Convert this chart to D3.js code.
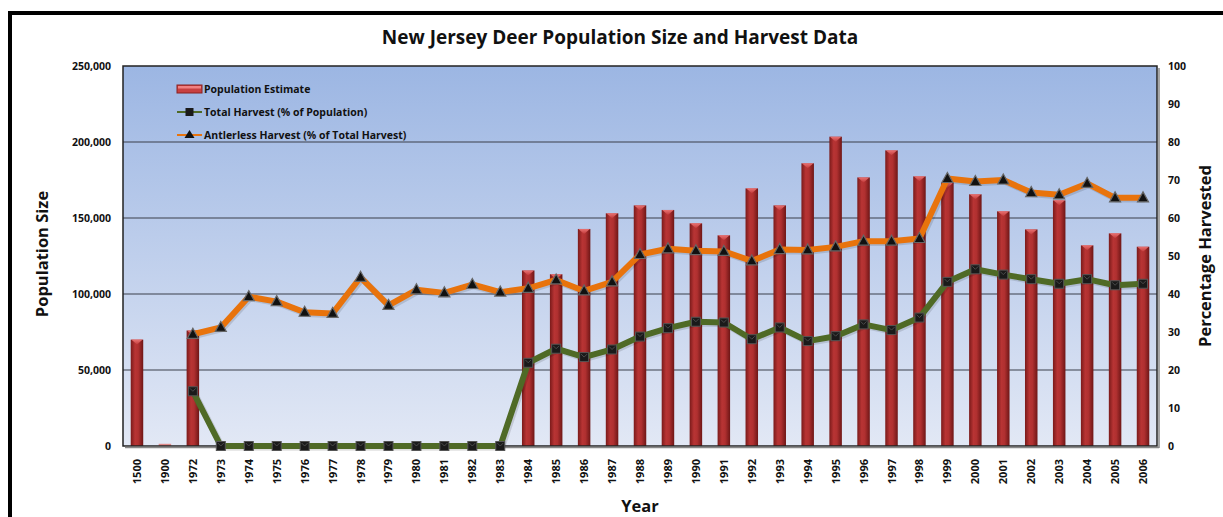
<!DOCTYPE html>
<html><head><meta charset="utf-8">
<script src="https://cdn.jsdelivr.net/npm/d3@7"></script>
<style>body{margin:0;background:#fff}svg{display:block;font-family:"Open Sans",Lato,sans-serif}</style>
</head><body>
<script>
const years = ["1500","1900","1972","1973","1974","1975","1976","1977","1978","1979","1980","1981","1982","1983","1984","1985","1986","1987","1988","1989","1990","1991","1992","1993","1994","1995","1996","1997","1998","1999","2000","2001","2002","2003","2004","2005","2006"];
const population = [70000,800,76000,null,null,null,null,null,null,null,null,null,null,null,115500,113000,142800,153100,158300,155300,146500,138600,169500,158300,186000,203500,176700,194500,177400,173200,165600,154400,142500,161600,132000,139900,131100];
const totalHarvest = [null,null,14.4,0,0,0,0,0,0,0,0,0,0,0,21.9,25.6,23.4,25.4,28.8,31.0,32.7,32.5,28.1,31.2,27.6,28.9,32.0,30.5,33.8,43.2,46.5,45.1,43.9,42.7,43.9,42.3,42.7];
const antlerless = [null,null,29.4,31.2,39.3,38.0,35.2,34.9,44.4,37.0,41.1,40.3,42.5,40.5,41.5,43.7,40.8,43.2,50.4,51.9,51.4,51.2,48.7,51.7,51.6,52.4,53.9,53.9,54.6,70.4,69.6,70.0,66.7,66.1,69.1,65.3,65.3];
const leftTicks = [0,50000,100000,150000,200000,250000];
const rightTicks = [0,10,20,30,40,50,60,70,80,90,100];
const legendLabels = ["Population Estimate","Total Harvest (% of Population)","Antlerless Harvest (% of Total Harvest)"];

const W=1223,H=517;
const m={l:123,r:1157,t:66,b:446};
const svg=d3.select("body").append("svg").attr("width",W).attr("height",H);
const defs=svg.append("defs");
const bg=defs.append("linearGradient").attr("id","bg").attr("x1",0).attr("y1",0).attr("x2",0).attr("y2",1);
bg.append("stop").attr("offset","0%").attr("stop-color","#9cb6e3");
bg.append("stop").attr("offset","100%").attr("stop-color","#e2e8f5");
const bar=defs.append("linearGradient").attr("id","bar").attr("x1",0).attr("y1",0).attr("x2",1).attr("y2",0);
bar.append("stop").attr("offset","0%").attr("stop-color","#7a1a1a");
bar.append("stop").attr("offset","35%").attr("stop-color","#b83434");
bar.append("stop").attr("offset","60%").attr("stop-color","#b03030");
bar.append("stop").attr("offset","100%").attr("stop-color","#6e1616");
const cap=defs.append("linearGradient").attr("id","cap").attr("x1",0).attr("y1",0).attr("x2",0).attr("y2",1);
cap.append("stop").attr("offset","0%").attr("stop-color","#f07a7a");
cap.append("stop").attr("offset","100%").attr("stop-color","#c23a3a");

// outer frame
svg.append("rect").attr("x",10).attr("y",13).attr("width",1260).attr("height",560)
  .attr("fill","none").attr("stroke","#000").attr("stroke-width",4);

const x=d3.scaleBand().domain(years).range([m.l,m.r]).paddingInner(0).paddingOuter(0);
const yL=d3.scaleLinear().domain([0,250000]).range([m.b,m.t]);
const yR=d3.scaleLinear().domain([0,100]).range([m.b,m.t]);

svg.append("rect").attr("x",m.l).attr("y",m.t).attr("width",m.r-m.l).attr("height",m.b-m.t).attr("fill","url(#bg)");
// gridlines
svg.append("g").selectAll("line").data(leftTicks.filter(d=>d>0&&d<250000)).join("line")
  .attr("x1",m.l).attr("x2",m.r).attr("y1",d=>yL(d)).attr("y2",d=>yL(d))
  .attr("stroke","#3a3f4a").attr("stroke-width",1.2);

// bars
const bw=12.5;
const bars=svg.append("g");
years.forEach((yr,i)=>{
  const v=population[i]; if(v==null) return;
  const cx=x(yr)+x.bandwidth()/2;
  const top=yL(v);
  if(v<5000){
    bars.append("rect").attr("x",cx-bw/2).attr("y",top-1).attr("width",bw).attr("height",m.b-top+1).attr("fill","#e08a8a");
    return;
  }
  bars.append("rect").attr("x",cx-bw/2).attr("y",top).attr("width",bw).attr("height",m.b-top).attr("fill","url(#bar)");
  bars.append("path").attr("d",`M${cx-bw/2+0.5},${top} L${cx+bw/2-0.5},${top} L${cx},${top+5} Z`).attr("fill","url(#cap)").attr("opacity",0.9);
});

// plot border
svg.append("rect").attr("x",m.l).attr("y",m.t).attr("width",m.r-m.l).attr("height",m.b-m.t)
  .attr("fill","none").attr("stroke","#222").attr("stroke-width",1.5);
svg.append("line").attr("x1",m.r+2).attr("x2",m.r+2).attr("y1",m.t+2).attr("y2",m.b+2).attr("stroke","#888").attr("stroke-width",1.5);
svg.append("line").attr("x1",m.l+2).attr("x2",m.r+2).attr("y1",m.b+1.5).attr("y2",m.b+1.5).attr("stroke","#888").attr("stroke-width",1.5);

// lines
const cxOf=i=>x(years[i])+x.bandwidth()/2;
function series(vals,color,marker){
  const pts=vals.map((v,i)=>v==null?null:[cxOf(i),yR(v)]).filter(p=>p);
  const line=d3.line();
  svg.append("path").attr("d",line(pts.map(p=>[p[0]+1.5,p[1]+1.5]))).attr("fill","none").attr("stroke","rgba(0,0,0,0.12)").attr("stroke-width",6.5).attr("stroke-linejoin","round");
  svg.append("path").attr("d",line(pts)).attr("fill","none").attr("stroke",color).attr("stroke-width",6).attr("stroke-linejoin","round");
  const g=svg.append("g");
  pts.forEach(p=>{
    if(marker==="square"){
      g.append("rect").attr("x",p[0]-4.5).attr("y",p[1]-4.5).attr("width",9).attr("height",9).attr("fill","#1a1a1a").attr("stroke","#555").attr("stroke-width",1);
      g.append("path").attr("d",`M${p[0]-3},${p[1]-3}L${p[0]},${p[1]}L${p[0]+3},${p[1]-3}`).attr("stroke","#555").attr("fill","none").attr("stroke-width",0.8);
    } else {
      g.append("path").attr("d",`M${p[0]},${p[1]-6}L${p[0]+5.5},${p[1]+4}L${p[0]-5.5},${p[1]+4}Z`).attr("fill","#111").attr("stroke","#666").attr("stroke-width",1.2);
    }
  });
}
series(antlerless,"#e8730c","tri");
series(totalHarvest,"#4f6a26","square");

// left axis labels
svg.append("g").selectAll("text").data(leftTicks).join("text")
  .attr("x",111).attr("y",d=>yL(d)).attr("dy","0.35em").attr("text-anchor","end")
  .attr("font-size",10.5).attr("font-weight","bold").attr("fill","#111").text(d=>d3.format(",")(d));
svg.append("g").selectAll("text").data(rightTicks).join("text")
  .attr("x",1168).attr("y",d=>yR(d)).attr("dy","0.35em").attr("text-anchor","start")
  .attr("font-size",10.5).attr("font-weight","bold").attr("fill","#111").text(d=>d);
// x labels
svg.append("g").selectAll("text").data(years).join("text")
  .attr("transform",d=>`translate(${x(d)+x.bandwidth()/2+4},459) rotate(-90)`)
  .attr("text-anchor","end").attr("font-size",11).attr("font-weight","bold").attr("fill","#111").text(d=>d);

// titles
svg.append("text").attr("x",620).attr("y",44).attr("text-anchor","middle").attr("font-size",19).attr("font-weight","bold").attr("fill","#111").text("New Jersey Deer Population Size and Harvest Data");
svg.append("text").attr("transform","translate(48,254) rotate(-90)").attr("text-anchor","middle").attr("font-size",16.5).attr("font-weight","bold").attr("fill","#111").text("Population Size");
svg.append("text").attr("transform","translate(1211,256) rotate(-90)").attr("text-anchor","middle").attr("font-size",16.5).attr("font-weight","bold").attr("fill","#111").text("Percentage Harvested");
svg.append("text").attr("x",640).attr("y",512).attr("text-anchor","middle").attr("font-size",16.5).attr("font-weight","bold").attr("fill","#111").text("Year");

// legend
const lg=svg.append("g");
const ly=[89,112,135];
lg.append("rect").attr("x",177).attr("y",ly[0]-4).attr("width",25).attr("height",8).attr("fill","#c84040").attr("stroke","#8a2020").attr("stroke-width",1);
lg.append("rect").attr("x",178).attr("y",ly[0]-3).attr("width",23).attr("height",2.5).attr("fill","#f08080");
lg.append("line").attr("x1",177).attr("x2",202).attr("y1",ly[1]).attr("y2",ly[1]).attr("stroke","#4f6a26").attr("stroke-width",2);
lg.append("rect").attr("x",185.5).attr("y",ly[1]-4).attr("width",8).attr("height",8).attr("fill","#1a1a1a");
lg.append("line").attr("x1",177).attr("x2",202).attr("y1",ly[2]).attr("y2",ly[2]).attr("stroke","#e8730c").attr("stroke-width",2);
lg.append("path").attr("d",`M189.5,${ly[2]-5}L194.5,${ly[2]+3}L184.5,${ly[2]+3}Z`).attr("fill","#111");
lg.selectAll("text").data(legendLabels).join("text").attr("x",204).attr("y",(d,i)=>ly[i]).attr("dy","0.35em")
  .attr("font-size",10.5).attr("font-weight","bold").attr("fill","#111").text(d=>d);
</script>
</body></html>
